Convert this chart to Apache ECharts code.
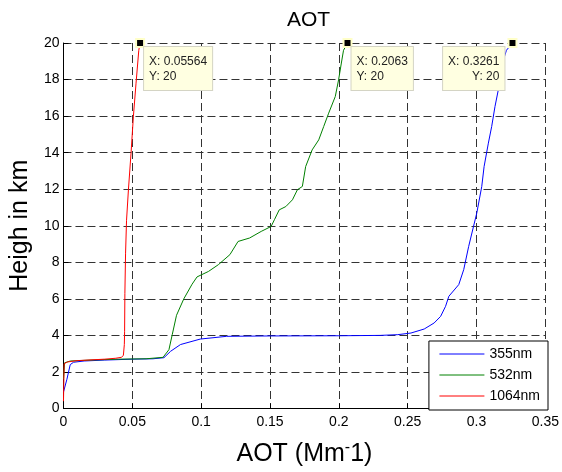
<!DOCTYPE html>
<html>
<head>
<meta charset="utf-8">
<script src="https://cdn.jsdelivr.net/npm/echarts@6/dist/echarts.min.js"></script>
<style>
  html, body { margin: 0; padding: 0; background: #fff; }
  #chart { width: 562px; height: 472px; }
</style>
</head>
<body>
<div id="chart"></div>
<script>
// AOT profiles, [AOT, height km]
var aot355 = [
  [0, 0.9], [0.0025, 1.6], [0.0049, 2.4], [0.0073, 2.53], [0.015, 2.6], [0.03, 2.65],
  [0.05, 2.7], [0.065, 2.72], [0.073, 2.78], [0.0778, 3.13], [0.085, 3.5], [0.0994, 3.8],
  [0.1185, 3.95], [0.15, 3.97], [0.2, 3.98], [0.23, 4.0], [0.2428, 4.04], [0.2524, 4.13],
  [0.262, 4.35], [0.2692, 4.68], [0.2739, 5.04], [0.2775, 5.59], [0.2799, 6.14], [0.2871, 6.78],
  [0.2907, 7.6], [0.2943, 8.87], [0.2978, 9.96], [0.3002, 10.7], [0.3038, 12.15], [0.3055, 13.24],
  [0.3086, 14.52], [0.311, 15.43], [0.3134, 16.52], [0.3158, 17.43], [0.3181, 18.7], [0.3217, 19.6],
  [0.3261, 20]
];
var aot532 = [
  [0, 1.6], [0.0008, 2.5], [0.005, 2.6], [0.02, 2.65], [0.04, 2.7], [0.06, 2.72], [0.0723, 2.8],
  [0.0766, 3.22], [0.079, 4.04], [0.0821, 5.1], [0.0874, 6.0], [0.0934, 6.8], [0.097, 7.2],
  [0.1053, 7.5], [0.1125, 7.87], [0.1209, 8.42], [0.1268, 9.14], [0.1352, 9.33], [0.1436, 9.69],
  [0.1508, 9.96], [0.1532, 10.33], [0.1567, 10.87], [0.1615, 11.05], [0.1663, 11.42], [0.1699, 11.97],
  [0.1735, 12.15], [0.1759, 13.24], [0.1806, 14.15], [0.1854, 14.7], [0.189, 15.43], [0.1926, 16.16],
  [0.1974, 17.07], [0.1998, 17.98], [0.2022, 19.07], [0.2034, 19.6], [0.2063, 20]
];
var aot1064 = [
  [0, 0.4], [0.0005, 2.45], [0.003, 2.55], [0.01, 2.62], [0.02, 2.66], [0.03, 2.7], [0.038, 2.75],
  [0.042, 2.8], [0.0435, 2.9], [0.0442, 3.5], [0.0444, 4.2], [0.0446, 6.3], [0.0451, 8.5],
  [0.0458, 10.3], [0.0472, 12], [0.0491, 14], [0.0508, 16], [0.0527, 17.8], [0.0547, 19.6],
  [0.05564, 20]
];
var seriesNames = ['355nm', '532nm', '1064nm'];
var seriesColors = ['#0000ff', '#008000', '#ff0000'];
var tipX = ['0.3261', '0.2063', '0.05564'];
var tipY = ['20', '20', '20'];

var font = 'Liberation Sans, Arial, sans-serif';
var chart = echarts.init(document.getElementById('chart'));

function tip(i, data, pos, align) {
  var last = data[data.length - 1];
  return {
    symbol: 'rect',
    symbolSize: 8,
    silent: true,
    itemStyle: { color: '#000', borderColor: '#ffffc8', borderWidth: 2 },
    label: {
      show: true,
      position: pos,
      align: align,
      verticalAlign: 'top',
      formatter: 'X: ' + tipX[i] + '\nY: ' + tipY[i],
      fontFamily: font,
      fontSize: 12,
      lineHeight: 15,
      color: '#222',
      backgroundColor: '#ffffe1',
      borderColor: '#d4d4c4',
      borderWidth: 1,
      padding: [7, 5, 6, 5]
    },
    data: [{ coord: last }]
  };
}

var allData = [aot355, aot532, aot1064];
var tipPos = [[-3, 9], [9, 9], [9, 9]];
var tipAlign = ['right', 'left', 'left'];

var option = {
  animation: false,
  backgroundColor: '#fff',
  title: {
    text: 'AOT',
    left: 282,
    top: 5,
    textStyle: { fontFamily: font, fontSize: 21, fontWeight: 'normal', color: '#000' }
  },
  grid: { left: 61, right: 14, top: 43, bottom: 63 },
  legend: {
    data: seriesNames,
    orient: 'vertical',
    right: 14,
    bottom: 62,
    backgroundColor: '#fff',
    borderColor: '#000',
    borderWidth: 1,
    borderRadius: 0,
    padding: [6, 8, 7, 10],
    itemWidth: 45,
    itemHeight: 14,
    itemGap: 7,
    itemStyle: { opacity: 0 },
    lineStyle: { width: 1 },
    textStyle: { fontFamily: font, fontSize: 14, color: '#000' }
  },
  xAxis: {
    type: 'value',
    min: 0, max: 0.35, interval: 0.05,
    name: 'AOT (Mm{sup|-}1)',
    nameLocation: 'middle',
    nameGap: 31,
    nameTextStyle: {
      fontFamily: font, fontSize: 25, color: '#000',
      rich: { sup: { fontFamily: font, fontSize: 16, color: '#000', padding: [0, 0, 14, 0] } }
    },
    axisLine: { onZero: false, lineStyle: { color: '#000', width: 1 } },
    axisTick: { inside: true, length: 5, lineStyle: { color: '#000' } },
    axisLabel: { fontFamily: font, fontSize: 14, color: '#000', margin: 7 },
    splitLine: { show: true, lineStyle: { color: '#333', type: [8, 4], width: 1 } }
  },
  yAxis: {
    type: 'value',
    min: 0, max: 20, interval: 2,
    name: 'Heigh in km',
    nameLocation: 'middle',
    nameRotate: 90,
    nameGap: 30,
    nameTextStyle: { fontFamily: font, fontSize: 25, color: '#000' },
    axisLine: { show: true, onZero: false, lineStyle: { color: '#000', width: 1 } },
    axisTick: { show: true, inside: true, length: 5, lineStyle: { color: '#000' } },
    axisLabel: { fontFamily: font, fontSize: 14, color: '#000', margin: 4 },
    splitLine: { show: true, lineStyle: { color: '#333', type: [8, 4], width: 1 } }
  },
  series: allData.map(function (d, i) {
    return {
      name: seriesNames[i],
      type: 'line',
      data: d,
      symbol: 'none',
      showSymbol: false,
      color: seriesColors[i],
      lineStyle: { color: seriesColors[i], width: 1 },
      markPoint: tip(i, d, tipPos[i], tipAlign[i])
    };
  })
};

chart.setOption(option);
</script>
</body>
</html>
